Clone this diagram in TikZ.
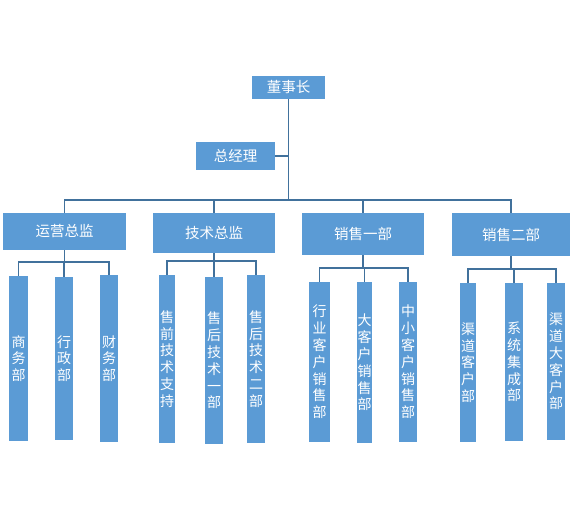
\documentclass[tikz,border=0pt]{standalone}
\usepackage{fontspec}
\setmainfont{Noto Sans CJK SC}
\newfontfamily\cjk{Noto Sans CJK SC}
\definecolor{boxblue}{RGB}{91,155,213}
\definecolor{lineblue}{RGB}{65,113,156}
\tikzset{
  box/.style={fill=boxblue, draw=none, inner sep=0pt, text=white, font=\cjk\fontsize{14.5}{16}\selectfont},
  vbox/.style={box, align=center, text width=14pt, font=\cjk\fontsize{14}{16.8}\selectfont},
  conn/.style={draw=lineblue, line width=1.1pt}
}
\begin{document}
\begin{tikzpicture}[x=1pt,y=-1pt]
\useasboundingbox (0,0) rectangle (575,524);
% level 0/1
\node[box, minimum width=73pt, minimum height=23pt] (chair) at (288.5,87.5) {董事长};
\node[box, minimum width=79pt, minimum height=28pt] (gm) at (235.5,156) {总经理};
% level 2
\node[box, minimum width=123pt, minimum height=37pt] (ops) at (64.5,231.5) {运营总监};
\node[box, minimum width=122pt, minimum height=40pt] (tech) at (214,233) {技术总监};
\node[box, minimum width=122pt, minimum height=42pt] (sa) at (363,234) {销售一部};
\node[box, minimum width=118pt, minimum height=43pt] (sb) at (511,234.5) {销售二部};
% level 3
\node[vbox, minimum width=19pt, minimum height=165pt] (o1) at (18.5,358.5) {商\\务\\部};
\node[vbox, minimum width=18pt, minimum height=163pt] (o2) at (64,358.5) {行\\政\\部};
\node[vbox, minimum width=18pt, minimum height=167pt] (o3) at (109,358.5) {财\\务\\部};
\node[vbox, minimum width=16pt, minimum height=168pt] (t1) at (167,359) {售\\前\\技\\术\\支\\持};
\node[vbox, minimum width=18pt, minimum height=167pt] (t2) at (214,360.5) {售\\后\\技\\术\\一\\部};
\node[vbox, minimum width=18pt, minimum height=168pt] (t3) at (256,359) {售\\后\\技\\术\\二\\部};
\node[vbox, minimum width=21pt, minimum height=160pt] (a1) at (319.5,362) {行\\业\\客\\户\\销\\售\\部};
\node[vbox, minimum width=15pt, minimum height=161pt] (a2) at (364.5,362.5) {大\\客\\户\\销\\售\\部};
\node[vbox, minimum width=18pt, minimum height=160pt] (a3) at (408,362) {中\\小\\客\\户\\销\\售\\部};
\node[vbox, minimum width=16pt, minimum height=159pt] (b1) at (468,362.5) {渠\\道\\客\\户\\部};
\node[vbox, minimum width=18pt, minimum height=158pt] (b2) at (514,362) {系\\统\\集\\成\\部};
\node[vbox, minimum width=18pt, minimum height=157pt] (b3) at (556,361.5) {渠\\道\\大\\客\\户\\部};
% bus coordinates
\coordinate (busT) at (0,200);
\coordinate (busO) at (0,262);
\coordinate (busTe) at (0,261);
\coordinate (busA) at (0,268);
\coordinate (busB) at (0,269);
% connectors
\draw[conn] (gm.east) -- (gm.east -| chair.south);
\foreach \n in {ops,tech,sa,sb}
  \draw[conn] (chair.south) -- (chair.south |- busT) -| (\n.north);
\foreach \n in {o1,o2,o3}
  \draw[conn] (ops.south) -- (ops.south |- busO) -| (\n.north);
\foreach \n in {t1,t2,t3}
  \draw[conn] (tech.south) -- (tech.south |- busTe) -| (\n.north);
\foreach \n in {a1,a2,a3}
  \draw[conn] (sa.south) -- (sa.south |- busA) -| (\n.north);
\foreach \n in {b1,b2,b3}
  \draw[conn] (sb.south) -- (sb.south |- busB) -| (\n.north);
\end{tikzpicture}
\end{document}
